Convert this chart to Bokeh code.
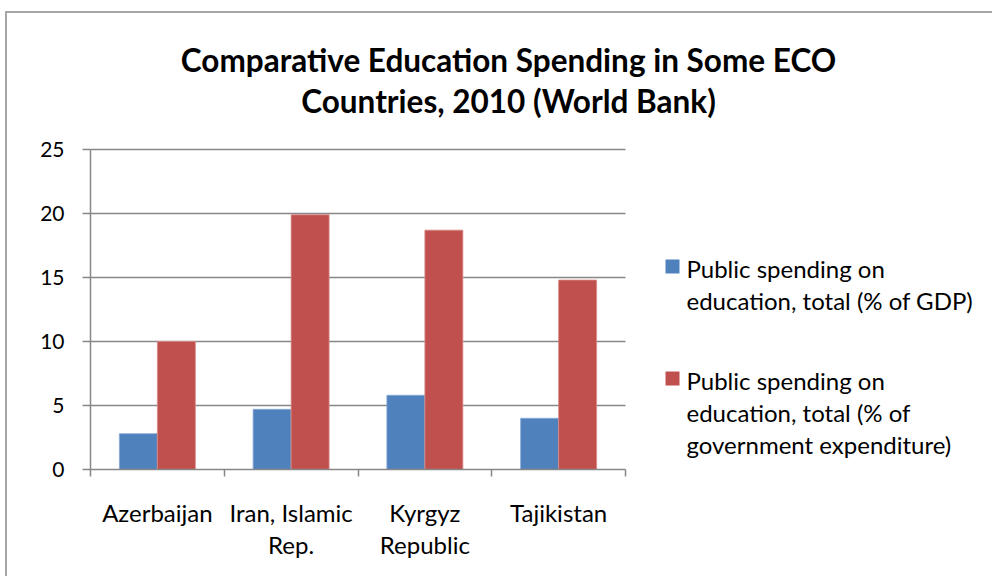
from bokeh.plotting import figure
from bokeh.models import Range1d, FixedTicker, Label
from bokeh.embed import file_html
from bokeh.resources import INLINE
import numpy as np

# ---- data ----
countries = ["Azerbaijan", "Iran, Islamic\nRep.", "Kyrgyz\nRepublic", "Tajikistan"]
gdp_share = [2.8, 4.7, 5.8, 4.0]
govexp_share = [10.0, 19.9, 18.7, 14.8]
series_lines = [["Public spending on", "education, total (% of GDP)"],
                ["Public spending on", "education, total (% of", "government expenditure)"]]
series_colors = ["#4F81BD", "#C0504D"]
title_lines = ["Comparative Education Spending in Some ECO", "Countries, 2010 (World Bank)"]
y_ticks = [0, 5, 10, 15, 20, 25]

FONT = "Lato"
GRID = "#878787"

# ---- layout (page pixels) ----
OX, OY = 7, 13            # canvas origin on page (after css border)
W, H = 987, 565
PLOT_L, PLOT_R, PLOT_T, PLOT_B = 90, 625, 149, 469   # chart area on page
ymax, ncat = 25, len(countries)
py_per_unit = (PLOT_B - PLOT_T) / ymax
px_per_unit = (PLOT_R - PLOT_L) / ncat
frame_l, frame_b = PLOT_L, PLOT_B
frame_r, frame_t = OX + W, OY


def X(px):
    return (px - frame_l) / px_per_unit


def Y(py):
    return (frame_b - py) / py_per_unit


p = figure(width=W, height=H, output_backend="svg", toolbar_location=None,
           x_range=Range1d(0, X(frame_r)), y_range=Range1d(0, Y(frame_t)),
           min_border_left=frame_l - OX, min_border_right=0, min_border_top=0,
           min_border_bottom=OY + H - frame_b)
p.outline_line_color = None
p.background_fill_color = "white"
p.border_fill_color = "white"
p.styles = {"margin-left": "5px", "margin-top": "11px",
            "border-left": "2px solid #a6a6a6", "border-top": "2px solid #a6a6a6"}

# ---- bars ----
idx = np.arange(ncat) + 0.5
bw = 0.284
b1 = p.vbar(x=idx - bw / 2, top=gdp_share, width=bw, fill_color=series_colors[0],
            line_color="#86A8D6", line_width=0.8)
b2 = p.vbar(x=idx + bw / 2, top=govexp_share, width=bw, fill_color=series_colors[1],
            line_color="#DB8B88", line_width=0.8)

# ---- grid ----
p.xgrid.visible = False
try:
    p.ygrid.ticker = FixedTicker(ticks=y_ticks)
    p.ygrid.cross_bounds = (0, ncat)
    p.ygrid.grid_line_color = GRID
    p.ygrid.grid_line_width = 1.5
except AttributeError:
    p.ygrid.visible = False
    p.segment(x0=[0] * len(y_ticks), x1=[ncat] * len(y_ticks), y0=y_ticks, y1=y_ticks,
              line_color=GRID, line_width=1.5, level="underlay")

# ---- axes ----
ya = p.yaxis[0]
ya.ticker = FixedTicker(ticks=y_ticks)
ya.bounds = (0, ymax)
ya.axis_line_color = GRID
ya.axis_line_width = 1.5
ya.major_tick_line_color = GRID
ya.major_tick_line_width = 1.5
ya.major_tick_in = 0
ya.major_tick_out = 8
ya.minor_tick_line_color = None
ya.major_label_text_font = FONT
ya.major_label_text_font_size = "21px"
ya.major_label_text_color = "black"
ya.major_label_standoff = 18

xa = p.xaxis[0]
xa.ticker = FixedTicker(ticks=list(idx), minor_ticks=list(range(ncat + 1)))
xa.bounds = (0, ncat)
xa.major_label_overrides = {float(v): c for v, c in zip(idx, countries)}
xa.axis_line_color = GRID
xa.axis_line_width = 1.5
xa.major_tick_line_color = None
xa.major_tick_in = 0
xa.major_tick_out = 0
xa.minor_tick_line_color = GRID
xa.minor_tick_line_width = 1.5
xa.minor_tick_in = 0
xa.minor_tick_out = 7
xa.major_label_text_font = FONT
xa.major_label_text_font_size = "24px"
xa.major_label_text_color = "black"
xa.major_label_standoff = 21
xa.major_label_text_line_height = 1.11

# ---- title ----
for txt, py in zip(title_lines, [59, 100]):
    p.add_layout(Label(x=X(508), y=Y(py), text=txt, text_font=FONT, text_font_style="bold",
                       text_font_size="31.5px", text_align="center", text_baseline="middle",
                       text_color="black"))

# ---- legend ----
leg_first_line = [268, 380]
line_gap = 32
for lines, col, y0 in zip(series_lines, series_colors, leg_first_line):
    p.scatter(x=[X(672)], y=[Y(y0 - 2)], marker="square", size=14, fill_color=col, line_color=None)
    for k, ln in enumerate(lines):
        p.add_layout(Label(x=X(686), y=Y(y0 + k * line_gap), text=ln, text_font=FONT,
                           text_font_size="24px", text_align="left", text_baseline="middle",
                           text_color="black"))

open("out.html", "w").write(file_html(p, INLINE))
